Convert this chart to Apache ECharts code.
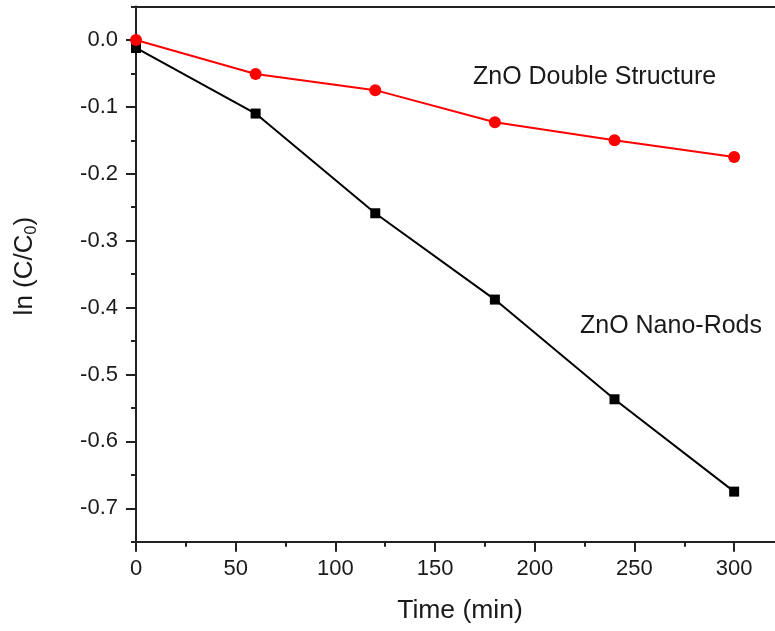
<!DOCTYPE html>
<html>
<head>
<meta charset="utf-8">
<script src="https://cdn.jsdelivr.net/npm/echarts@6/dist/echarts.min.js"></script>
<style>html,body{margin:0;padding:0;background:#fff;}#c{width:775px;height:631px;}</style>
</head>
<body>
<div id="c"></div>
<script>
var timeMin = [0, 60, 120, 180, 240, 300];
var nanoRods = [-0.012, -0.110, -0.259, -0.388, -0.537, -0.675];
var doubleStructure = [0.0, -0.051, -0.075, -0.123, -0.150, -0.175];
var seriesNames = ['ZnO Nano-Rods', 'ZnO Double Structure'];
var xTitle = 'Time (min)';

var FONT = 'Arial, "Liberation Sans", sans-serif';
var AX = '#222';
var TXT = '#1a1a1a';

function pairs(xs, ys) { return xs.map(function (x, i) { return [x, ys[i]]; }); }

var chart = echarts.init(document.getElementById('c'), null, { renderer: 'canvas' });
chart.setOption({
  animation: false,
  backgroundColor: '#fff',
  grid: [
    { left: 136, top: 6.5, width: 648, height: 535.3, outerBoundsMode: 'none', containLabel: false },
    { left: 136, top: 40, width: 648, height: 468.3, outerBoundsMode: 'none', containLabel: false }
  ],
  xAxis: [
    {
      gridIndex: 0, type: 'value', min: 0, max: 325, interval: 50, position: 'bottom',
      axisLine: { show: true, onZero: false, lineStyle: { color: AX, width: 2 } },
      axisTick: { show: true, inside: false, length: 10, lineStyle: { color: AX, width: 2 } },
      minorTick: { show: true, splitNumber: 2, length: 5, lineStyle: { color: AX, width: 2 } },
      axisLabel: { show: true, fontSize: 22, fontFamily: FONT, color: TXT, margin: 16, showMaxLabel: false },
      splitLine: { show: false },
      name: xTitle, nameLocation: 'middle', nameGap: 55,
      nameTextStyle: { fontSize: 26.5, fontFamily: FONT, color: TXT }
    },
    {
      gridIndex: 0, type: 'value', min: 0, max: 325, position: 'top',
      axisLine: { show: true, onZero: false, lineStyle: { color: AX, width: 2 } },
      axisTick: { show: false }, axisLabel: { show: false }, splitLine: { show: false }
    },
    {
      gridIndex: 1, type: 'value', min: 0, max: 325, show: false
    }
  ],
  yAxis: [
    {
      gridIndex: 0, type: 'value', min: -0.75, max: 0.05, interval: 0.05,
      axisLine: { show: true, onZero: false, lineStyle: { color: AX, width: 2 } },
      axisTick: { show: true, inside: false, length: 5, lineStyle: { color: AX, width: 2 } },
      axisLabel: { show: false }, splitLine: { show: false }
    },
    {
      gridIndex: 1, type: 'value', min: -0.7, max: 0, interval: 0.1,
      axisLine: { show: false },
      axisTick: { show: true, inside: false, length: 10, lineStyle: { color: AX, width: 2 } },
      axisLabel: {
        show: true, fontSize: 22, fontFamily: FONT, color: TXT, margin: 18,
        formatter: function (v) { return (Math.abs(v) < 1e-9 ? 0 : v).toFixed(1); }
      },
      splitLine: { show: false },
      name: '{a|ln (C/C}{b|0}{a|)}', nameLocation: 'middle', nameGap: 96,
      nameTextStyle: {
        padding: [0, 0, 0, 16],
        rich: {
          a: { fontSize: 26, fontFamily: FONT, color: TXT, lineHeight: 30 },
          b: { fontSize: 16, fontFamily: FONT, color: TXT, verticalAlign: 'bottom', lineHeight: 30 }
        }
      }
    }
  ],
  series: [
    {
      name: seriesNames[0], type: 'line', xAxisIndex: 0, yAxisIndex: 0,
      data: pairs(timeMin, nanoRods),
      symbol: 'rect', symbolSize: 10,
      lineStyle: { color: '#000', width: 2 },
      itemStyle: { color: '#000' }
    },
    {
      name: seriesNames[1], type: 'line', xAxisIndex: 0, yAxisIndex: 0,
      data: pairs(timeMin, doubleStructure),
      symbol: 'circle', symbolSize: 12,
      lineStyle: { color: '#ff0000', width: 2 },
      itemStyle: { color: '#ff0000' }
    }
  ],
  graphic: [
    { type: 'text', left: 473, top: 65, style: { text: seriesNames[1], font: '25px ' + FONT, fill: TXT } },
    { type: 'text', left: 580, top: 314, style: { text: seriesNames[0], font: '25px ' + FONT, fill: TXT } }
  ]
});
</script>
</body>
</html>
